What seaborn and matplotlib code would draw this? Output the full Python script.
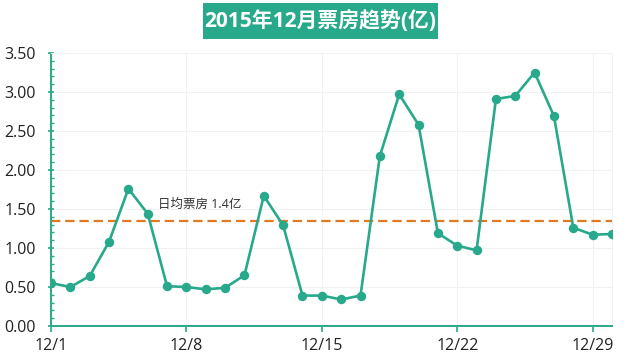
import matplotlib
matplotlib.use("Agg")
import matplotlib.pyplot as plt
from matplotlib.patches import Rectangle
from matplotlib.ticker import MultipleLocator
import pandas as pd
import seaborn as sns

# Daily box office, December 2015 (unit: 100 million yuan)
days = list(range(1, 31))
box_office = [0.55, 0.50, 0.64, 1.08, 1.76, 1.44, 0.51, 0.50, 0.47, 0.49,
              0.65, 1.67, 1.29, 0.39, 0.39, 0.34, 0.39, 2.18, 2.97, 2.58,
              1.19, 1.03, 0.97, 2.91, 2.95, 3.25, 2.69, 1.26, 1.17, 1.18]
daily_avg = 1.35
tick_days = [1, 8, 15, 22, 29]
tick_labels = ["12/1", "12/8", "12/15", "12/22", "12/29"]
title = "2015年12月票房趋势(亿)"
avg_label = "日均票房 {:.1f}亿"

teal = "#28a98b"
orange = "#e07a22"
grid = "#f1f1f1"

df = pd.DataFrame({"day": days, "box": box_office})

sns.set_theme(style="white")
plt.rcParams["font.family"] = ["Open Sans", "Noto Sans CJK SC", "DejaVu Sans"]

W, H = 640, 362
fig = plt.figure(figsize=(W / 100, H / 100), dpi=100)
ax = fig.add_axes([51 / W, 1 - 326 / H, (612 - 51) / W, (326 - 53) / H])

sns.lineplot(data=df, x="day", y="box", ax=ax, color=teal, linewidth=1.9,
             marker="o", markersize=6.8, markeredgewidth=0,
             markerfacecolor=teal, zorder=3)

ax.axhline(daily_avg, color=orange, linewidth=1.6, dashes=(4.2, 2.2), zorder=2)
ax.annotate(avg_label.format(daily_avg), xy=(6.55, daily_avg),
            xytext=(0, 12), textcoords="offset points",
            ha="left", va="center", fontsize=9, color="#333333")

ax.set_xlim(1, 30)
ax.set_ylim(0, 3.5)
ax.set_xticks(tick_days)
ax.set_xticklabels(tick_labels)
ax.yaxis.set_major_locator(MultipleLocator(0.5))
ax.yaxis.set_minor_locator(MultipleLocator(0.1))
ax.yaxis.set_major_formatter(lambda v, pos: f"{v:.2f}")
ax.set_xlabel("")
ax.set_ylabel("")

ax.grid(True, which="major", color=grid, linewidth=0.8, zorder=0)
for side in ("left", "bottom"):
    ax.spines[side].set_color(teal)
    ax.spines[side].set_linewidth(1.4)
for side in ("top", "right"):
    ax.spines[side].set_visible(True)
    ax.spines[side].set_color(grid)
    ax.spines[side].set_linewidth(0.8)

ax.tick_params(axis="y", which="major", direction="inout", length=4,
               width=1.2, color=teal, pad=9, labelsize=11.5, labelcolor="#222222",
               left=True)
ax.tick_params(axis="y", which="minor", direction="in", length=2.5,
               width=1.0, color=teal, left=True)
ax.tick_params(axis="x", which="major", direction="out", length=4,
               width=1.2, color=teal, pad=5, labelsize=11.5, labelcolor="#222222",
               bottom=True)

# Title banner
fig.patches.append(Rectangle((203 / W, 1 - 39 / H), (438 - 203) / W, 36 / H,
                             transform=fig.transFigure, facecolor=teal,
                             edgecolor="none", zorder=0))
fig.text(320.5 / W, 1 - 21.5 / H, title, ha="center", va="center",
         fontsize=15, fontweight="bold", color="white")

fig.savefig("out.png", dpi=100)
